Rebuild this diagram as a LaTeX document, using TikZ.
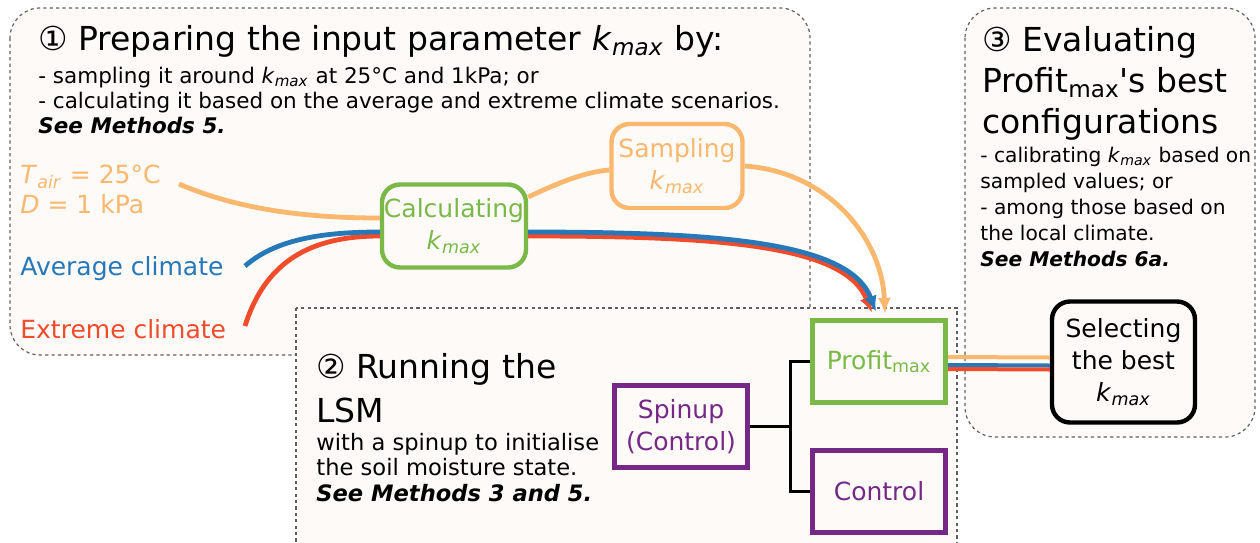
\documentclass[tikz,border=0pt]{standalone}
\usepackage{fontspec}
\setmainfont{DejaVu Sans}
\usetikzlibrary{positioning,arrows.meta}

\definecolor{cream}{RGB}{253,250,247}
\definecolor{dashgray}{RGB}{95,95,95}
\definecolor{orangeL}{RGB}{250,183,110}
\definecolor{blueL}{RGB}{39,120,185}
\definecolor{redL}{RGB}{240,76,43}
\definecolor{greenL}{RGB}{122,185,72}
\definecolor{purpleL}{RGB}{118,40,135}

\newcommand{\kmax}{\textit{k}\textsubscript{\textit{max}}}

\begin{document}
\begin{tikzpicture}[x=0.5pt,y=-0.5pt]
\tikzstyle{panel} = [draw=dashgray, fill=cream, line width=0.6pt, dash pattern=on 1.6pt off 1.6pt]
% multi-line text nodes: placed by the baseline of their last line
\tikzstyle{title} = [anchor=base west, inner sep=0pt, align=left, font=\fontsize{16.5}{21}\selectfont]
\tikzstyle{body} = [anchor=base west, inner sep=0pt, align=left, font=\fontsize{10.75}{12.5}\selectfont]
\tikzstyle{clim} = [anchor=base west, inner sep=0pt, align=left, font=\fontsize{12.5}{15}\selectfont]
\tikzstyle{rbox} = [draw, rounded corners=9pt, line width=2.2pt, align=center, inner sep=0pt, font=\fontsize{12.5}{16}\selectfont]
\tikzstyle{sbox} = [draw, line width=2.6pt, align=center, inner sep=0pt, minimum width=66.5pt, minimum height=41pt, font=\fontsize{12.5}{16}\selectfont]
\tikzstyle{flow} = [line width=2.4pt]
\tikzstyle{arrowed} = [-{Latex[length=8pt,width=6.5pt]}]

\useasboundingbox (0,0) rectangle (1260,542);

% panels
\draw[panel, rounded corners=15pt] (10,8) rectangle (810,355);
\draw[panel] (296,308) rectangle (957,560);
\draw[panel, rounded corners=15pt] (965,8) rectangle (1255,437);

% panel 1 text
\node[title] (title1) at (38,50) {① Preparing the input parameter \kmax{} by:};
\node[body] (text1) at (38,133) {- sampling it around \kmax{} at 25°C and 1kPa; or\\
- calculating it based on the average and extreme climate scenarios.\\
\textbf{\textit{See Methods 5.}}};

\node[clim, orangeL] (tair) at (20,213) {\textit{T}\textsubscript{\textit{air}} = 25°C\\\textit{D} = 1 kPa};
\node[clim, blueL] (avg) at (20,275) {Average climate};
\node[clim, redL] (ext) at (20,338) {Extreme climate};

% panel 2 text
\node[title, font=\fontsize{16.5}{22}\selectfont] (title2) at (316,422) {② Running the\\LSM};
\node[body, font=\fontsize{11.3}{12.7}\selectfont] (text2) at (316,501) {with a spinup to initialise\\
the soil moisture state.\\
\textbf{\textit{See Methods 3 and 5.}}};

% panel 3 text
\node[title, font=\fontsize{16.5}{20.5}\selectfont] (title3) at (982,133) {③ Evaluating\\Profit\textsubscript{max}\textquotesingle s best\\configurations};
\node[body, font=\fontsize{10.1}{12.9}\selectfont] (text3) at (980,266) {- calibrating \kmax{} based on\\
sampled values; or\\
- among those based on\\
the local climate.\\
\textbf{\textit{See Methods 6a.}}};

% boxes
\node[rbox, greenL, minimum width=72pt, minimum height=41.5pt] (calc) at (454,226) {Calculating\\\kmax};
\node[rbox, orangeL, minimum width=65.5pt, minimum height=42pt] (samp) at (677,166) {Sampling\\\kmax};
\node[sbox, greenL] (profit) at (879,361.5) {Profit\textsubscript{max}};
\node[sbox, purpleL] (spinup) at (681,426.5) {Spinup\\(Control)};
\node[sbox, purpleL] (control) at (879,491.5) {Control};
\node[rbox, black, minimum width=71.5pt, minimum height=60.5pt] (select) at (1123.5,362) {Selecting\\the best\\\kmax};

% inputs
\coordinate (tairend) at (179,184);
\coordinate (avgend) at (245,266);
\coordinate (extend) at (245,326);

\draw[flow, orangeL] (tairend) .. controls (235,208) and (300,218) .. ([yshift=4pt]calc.west);
\draw[flow, redL] (extend) .. controls (265,262) and (310,236) .. ([yshift=-5pt]calc.west);
\draw[flow, blueL] (avgend) .. controls (275,240) and (320,232) .. ([yshift=-3pt]calc.west);

\draw[flow, orangeL] ([yshift=14.5pt]calc.east) .. controls (560,182) and (585,172) .. ([yshift=-2pt]samp.west);
\draw[flow, orangeL, arrowed] (samp.east) .. controls (830,172) and (882,240) .. ([xshift=3pt,yshift=2pt]profit.north);

\draw[flow, redL, arrowed] ([yshift=-5pt]calc.east) .. controls (720,236) and (845,245) .. ([xshift=-3.5pt,yshift=2.5pt]profit.north);
\draw[flow, blueL, arrowed] ([yshift=-3pt]calc.east) .. controls (720,232) and (850,242) .. ([xshift=-1.5pt,yshift=3pt]profit.north);

% LSM runs
\coordinate (fork) at (790,426.5);
\draw[line width=1.5pt] (spinup.east) -- (fork) |- (profit.west);
\draw[line width=1.5pt] (fork) |- (control.west);

% to selection
\draw[line width=2pt, orangeL] ([yshift=2.25pt]profit.east) -- ([yshift=2.25pt]select.west);
\draw[line width=2pt, blueL] ([yshift=-1.75pt]profit.east) -- ([yshift=-1.75pt]select.west);
\draw[line width=2pt, redL] ([yshift=-3.75pt]profit.east) -- ([yshift=-3.75pt]select.west);
\end{tikzpicture}
\end{document}
